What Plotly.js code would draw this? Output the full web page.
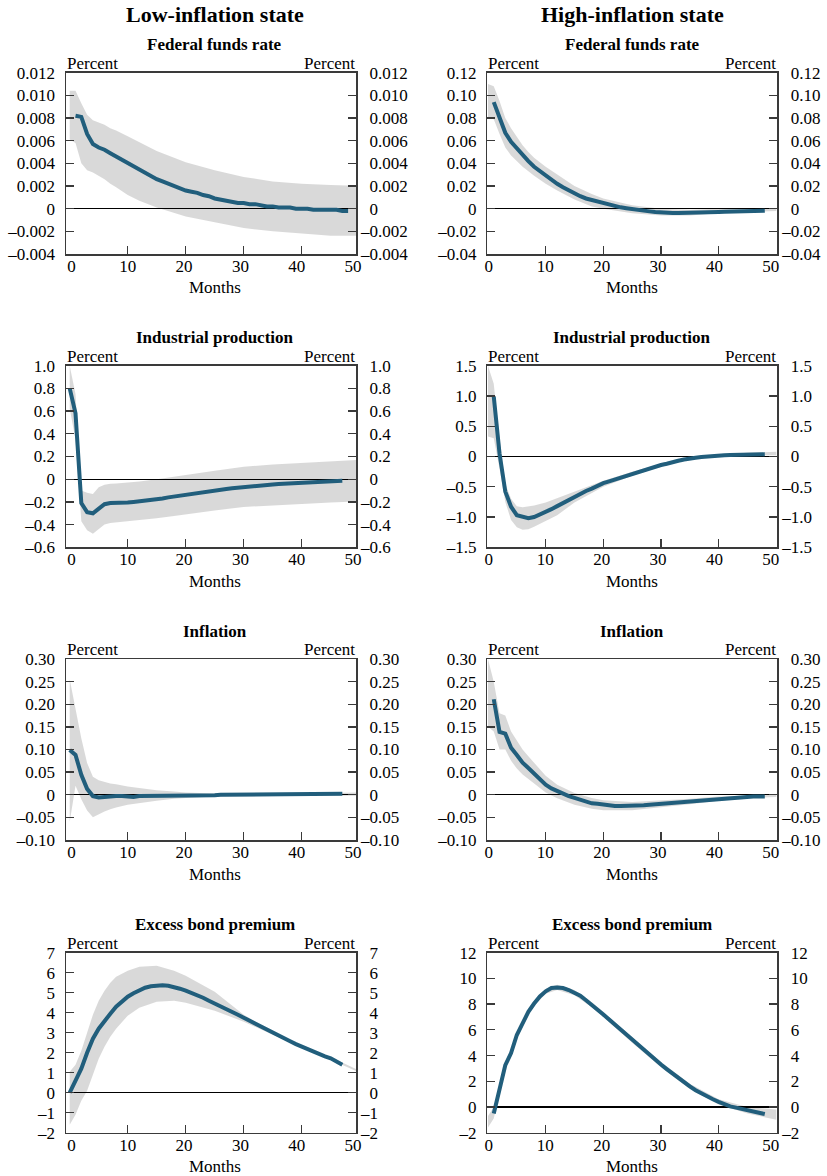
<!DOCTYPE html>
<html>
<head>
<meta charset="utf-8">
<script src="https://cdn.plot.ly/plotly-3.0.1.min.js"></script>
<style>html,body{margin:0;padding:0;background:#fff;}#chart{width:827px;height:1176px;}</style>
</head>
<body>
<div id="chart"></div>
<script>
// ---------------- DATA ----------------
const columnTitles = ["Low-inflation state", "High-inflation state"];
const panelTitles = ["Federal funds rate", "Industrial production", "Inflation", "Excess bond premium"];
const unitLabel = "Percent";
const xAxisLabel = "Months";

const monthsFrom1 = [1,2,3,4,5,6,7,8,9,10,11,12,13,14,15,16,17,18,19,20,21,22,23,24,25,26,27,28,29,30,31,32,33,34,35,36,37,38,39,40,41,42,43,44,45,46,47,48];
const monthsFrom0 = [0,1,2,3,4,5,6,7,8,9,10,11,12,13,14,15,16,17,18,19,20,21,22,23,24,25,26,27,28,29,30,31,32,33,34,35,36,37,38,39,40,41,42,43,44,45,46,47];
const bandMonths = [0,1,2,3,4,5,6,7,8,10,12,15,18,20,25,30,35,40,45,50];

const xTickVals = [0,10,20,30,40,50];
const xTickText = ["0","10","20","30","40","50"];
const xTickMarks = [10,20,30,40];

// Low-inflation: Federal funds rate
const lowFfrLine = [0.0082,0.0081,0.0066,0.0057,0.0054,0.0052,0.0049,0.0046,0.0043,0.0040,0.0037,0.0034,0.0031,0.0029,0.0026,0.0024,0.0022,0.0020,0.0018,0.0016,0.0015,0.0014,0.0012,0.0011,0.0009,0.0008,0.0007,0.0006,0.0005,0.0005,0.0004,0.0004,0.0003,0.0002,0.0002,0.0001,0.0001,0.0001,0.0000,0.0000,0.0000,-0.0001,-0.0001,-0.0001,-0.0001,-0.0001,-0.0002,-0.0002];
const lowFfrUpper = [0.0104,0.0104,0.0093,0.0083,0.0078,0.0076,0.0074,0.0071,0.0069,0.0064,0.0059,0.0051,0.0045,0.0041,0.0034,0.0028,0.0024,0.0022,0.0021,0.0020];
const lowFfrLower = [0.0061,0.0058,0.0040,0.0034,0.0032,0.0029,0.0026,0.0022,0.0019,0.0012,0.0007,0.0001,-0.0004,-0.0007,-0.0012,-0.0017,-0.0020,-0.0022,-0.0024,-0.0024];
const lowFfrTickVals = [0.012,0.010,0.008,0.006,0.004,0.002,0,-0.002,-0.004];
const lowFfrTickText = ["0.012","0.010","0.008","0.006","0.004","0.002","0","–0.002","–0.004"];

// High-inflation: Federal funds rate
const highFfrLine = [0.094,0.081,0.067,0.059,0.053,0.047,0.042,0.037,0.033,0.029,0.025,0.022,0.019,0.016,0.013,0.011,0.009,0.0077,0.006,0.0045,0.0033,0.0022,0.0012,0.0004,-0.0005,-0.0012,-0.0018,-0.0024,-0.003,-0.0035,-0.0037,-0.0038,-0.0038,-0.0038,-0.0038,-0.0037,-0.0036,-0.0034,-0.0032,-0.003,-0.0028,-0.0026,-0.0024,-0.0022,-0.002,-0.0019,-0.0018,-0.0018];
const highFfrUpper = [0.110,0.108,0.095,0.080,0.071,0.063,0.056,0.050,0.045,0.037,0.030,0.020,0.013,0.009,0.003,0.000,-0.001,0.000,0.000,0.000];
const highFfrLower = [0.080,0.079,0.066,0.054,0.047,0.042,0.037,0.033,0.029,0.022,0.016,0.008,0.002,0.000,-0.004,-0.006,-0.006,-0.004,-0.003,-0.002];
const highFfrTickVals = [0.12,0.10,0.08,0.06,0.04,0.02,0,-0.02,-0.04];
const highFfrTickText = ["0.12","0.10","0.08","0.06","0.04","0.02","0","–0.02","–0.04"];

// Low-inflation: Industrial production
const lowIpLine = [0.80,0.58,-0.21,-0.29,-0.30,-0.26,-0.22,-0.21,-0.21,-0.21,-0.205,-0.20,-0.195,-0.19,-0.183,-0.177,-0.17,-0.16,-0.152,-0.143,-0.135,-0.127,-0.12,-0.115,-0.108,-0.10,-0.093,-0.086,-0.08,-0.074,-0.068,-0.063,-0.058,-0.054,-0.05,-0.046,-0.042,-0.039,-0.036,-0.033,-0.03,-0.027,-0.024,-0.022,-0.02,-0.018,-0.016,-0.014];
const lowIpUpper = [1.00,0.75,-0.10,-0.12,-0.13,-0.07,-0.05,-0.04,-0.037,-0.03,-0.02,0.00,0.025,0.037,0.075,0.11,0.13,0.145,0.155,0.17];
const lowIpLower = [0.62,0.35,-0.37,-0.45,-0.48,-0.44,-0.40,-0.385,-0.38,-0.375,-0.365,-0.345,-0.325,-0.31,-0.275,-0.245,-0.23,-0.215,-0.205,-0.195];
const lowIpTickVals = [1.0,0.8,0.6,0.4,0.2,0,-0.2,-0.4,-0.6];
const lowIpTickText = ["1.0","0.8","0.6","0.4","0.2","0","–0.2","–0.4","–0.6"];

// High-inflation: Industrial production
const highIpLine = [0.99,0.05,-0.58,-0.83,-0.97,-1.00,-1.02,-1.00,-0.96,-0.91,-0.87,-0.82,-0.77,-0.71,-0.66,-0.61,-0.57,-0.53,-0.48,-0.44,-0.41,-0.38,-0.34,-0.31,-0.28,-0.25,-0.22,-0.20,-0.17,-0.14,-0.12,-0.09,-0.07,-0.05,-0.03,-0.02,-0.01,0.00,0.01,0.015,0.02,0.023,0.026,0.03,0.035,0.036,0.036,0.036];
const highIpUpper = [1.5,1.2,0.3,-0.45,-0.70,-0.82,-0.84,-0.83,-0.81,-0.76,-0.69,-0.58,-0.47,-0.40,-0.25,-0.12,-0.02,0.03,0.06,0.08];
const highIpLower = [0.33,0.30,-0.20,-0.75,-1.05,-1.17,-1.21,-1.20,-1.16,-1.07,-0.97,-0.76,-0.60,-0.50,-0.32,-0.17,-0.05,0.00,0.02,0.02];
const highIpTickVals = [1.5,1.0,0.5,0,-0.5,-1.0,-1.5];
const highIpTickText = ["1.5","1.0","0.5","0","–0.5","–1.0","–1.5"];

// Low-inflation: Inflation
const lowInfLine = [0.099,0.088,0.044,0.013,-0.003,-0.006,-0.005,-0.003,-0.003,-0.003,-0.004,-0.005,-0.003,-0.003,-0.003,-0.003,-0.003,-0.003,-0.003,-0.003,-0.003,-0.003,-0.003,-0.003,-0.002,-0.001,0.0,0.0,0.0,0.0,0.0,0.0,0.0,0.0,0.0,0.0,0.0,0.0,0.0,0.002,0.002,0.002,0.002,0.002,0.002,0.002,0.002,0.002];
const lowInfUpper = [0.255,0.19,0.125,0.07,0.04,0.032,0.028,0.025,0.023,0.018,0.015,0.01,0.007,0.005,0.003,0.003,0.003,0.004,0.004,0.005];
const lowInfLower = [-0.06,0.02,-0.01,-0.035,-0.05,-0.043,-0.037,-0.032,-0.028,-0.022,-0.018,-0.013,-0.009,-0.007,-0.004,-0.003,-0.002,-0.002,-0.002,-0.002];
const infTickVals = [0.30,0.25,0.20,0.15,0.10,0.05,0,-0.05,-0.10];
const infTickText = ["0.30","0.25","0.20","0.15","0.10","0.05","0","–0.05","–0.10"];

// High-inflation: Inflation
const highInfLine = [0.211,0.139,0.135,0.104,0.088,0.071,0.059,0.046,0.034,0.022,0.014,0.008,0.002,-0.003,-0.007,-0.011,-0.015,-0.019,-0.020,-0.022,-0.023,-0.025,-0.025,-0.025,-0.024,-0.023,-0.023,-0.022,-0.021,-0.020,-0.019,-0.018,-0.017,-0.016,-0.015,-0.013,-0.012,-0.011,-0.009,-0.008,-0.007,-0.006,-0.005,-0.004,-0.004,-0.004,-0.004,-0.004];
const highInfUpper = [0.30,0.25,0.18,0.175,0.14,0.12,0.10,0.085,0.07,0.042,0.022,0.004,-0.007,-0.012,-0.016,-0.013,-0.009,-0.004,-0.002,0.0];
const highInfLower = [0.15,0.14,0.10,0.10,0.075,0.058,0.045,0.035,0.025,0.005,-0.008,-0.022,-0.031,-0.034,-0.034,-0.028,-0.021,-0.013,-0.007,-0.005];

// Low-inflation: Excess bond premium
const lowEbpLine = [0.0,0.55,1.2,2.0,2.7,3.2,3.6,3.95,4.3,4.55,4.8,4.97,5.13,5.25,5.32,5.36,5.37,5.35,5.3,5.2,5.1,5.0,4.9,4.75,4.6,4.47,4.33,4.2,4.05,3.9,3.75,3.6,3.45,3.3,3.13,2.97,2.83,2.7,2.57,2.43,2.3,2.17,2.04,1.93,1.82,1.72,1.58,1.4];
const lowEbpUpper = [1.05,1.4,2.1,3.0,3.9,4.6,5.1,5.5,5.8,6.1,6.3,6.35,6.1,5.85,5.05,3.9,3.05,2.35,1.78,1.1];
const lowEbpLower = [-1.6,-1.1,-0.4,0.1,0.9,1.7,2.3,2.8,3.2,3.85,4.25,4.55,4.6,4.5,4.1,3.55,2.9,2.25,1.65,1.0];
const lowEbpTickVals = [7,6,5,4,3,2,1,0,-1,-2];
const lowEbpTickText = ["7","6","5","4","3","2","1","0","–1","–2"];

// High-inflation: Excess bond premium
const highEbpLine = [-0.5,1.3,3.25,4.2,5.6,6.5,7.4,8.05,8.6,9.0,9.25,9.3,9.25,9.1,8.9,8.65,8.3,7.95,7.6,7.2,6.8,6.4,6.0,5.6,5.2,4.8,4.4,4.0,3.65,3.3,2.95,2.6,2.25,1.9,1.6,1.3,1.05,0.8,0.6,0.4,0.2,0.05,-0.05,-0.15,-0.24,-0.35,-0.45,-0.55];
const highEbpUpper = [-0.7,0.0,1.6,3.5,4.45,5.8,6.7,7.6,8.25,9.2,9.5,9.1,8.15,7.4,5.4,3.5,1.8,0.6,0.0,-0.2];
const highEbpLower = [-1.6,-0.9,1.0,3.0,3.95,5.4,6.3,7.2,7.85,8.8,9.1,8.7,7.75,7.0,5.0,3.1,1.4,0.2,-0.5,-1.0];
const highEbpTickVals = [12,10,8,6,4,2,0,-2];
const highEbpTickText = ["12","10","8","6","4","2","0","–2"];

// ---------------- PANELS ----------------
const panels = [
  {months: monthsFrom1, line: lowFfrLine,  up: lowFfrUpper,  lo: lowFfrLower,  range: [-0.004, 0.012], tv: lowFfrTickVals,  tt: lowFfrTickText},
  {months: monthsFrom1, line: highFfrLine, up: highFfrUpper, lo: highFfrLower, range: [-0.04, 0.12],   tv: highFfrTickVals, tt: highFfrTickText},
  {months: monthsFrom0, line: lowIpLine,   up: lowIpUpper,   lo: lowIpLower,   range: [-0.6, 1.0],     tv: lowIpTickVals,   tt: lowIpTickText},
  {months: monthsFrom1, line: highIpLine,  up: highIpUpper,  lo: highIpLower,  range: [-1.5, 1.5],     tv: highIpTickVals,  tt: highIpTickText},
  {months: monthsFrom0, line: lowInfLine,  up: lowInfUpper,  lo: lowInfLower,  range: [-0.10, 0.30],   tv: infTickVals,     tt: infTickText},
  {months: monthsFrom1, line: highInfLine, up: highInfUpper, lo: highInfLower, range: [-0.10, 0.30],   tv: infTickVals,     tt: infTickText},
  {months: monthsFrom0, line: lowEbpLine,  up: lowEbpUpper,  lo: lowEbpLower,  range: [-2, 7],         tv: lowEbpTickVals,  tt: lowEbpTickText},
  {months: monthsFrom1, line: highEbpLine, up: highEbpUpper, lo: highEbpLower, range: [-2, 12],        tv: highEbpTickVals, tt: highEbpTickText}
];

// ---------------- LAYOUT GEOMETRY ----------------
const W = 827, H = 1176;
const colPx = [[66, 356], [487.3, 777.3]];
const rowPx = [[72.7, 254], [365.7, 547.3], [659, 840], [952.7, 1132.7]];
const dataXRange = [[-0.64, 49.36], [-0.12, 50.17]];
const labelXRange = [[-0.98, 50.53], [-0.27, 51.14]];

const FONT = "Liberation Serif, Times New Roman, serif";
const frameColor = "#3a3a3a";
const lineColor = "#215e7c";
const bandFill = "rgba(0,0,0,0.15)";
// right-hand labels: the minus sign hangs to the left of the digit column
const hang = t => (t.charAt(0) === "–" ? t : "\u2007" + t);

const traces = [];
const layout = {
  width: W, height: H,
  margin: {l: 0, r: 0, t: 0, b: 0},
  paper_bgcolor: "#ffffff",
  plot_bgcolor: "rgba(0,0,0,0)",
  font: {family: FONT, size: 17, color: "#000"},
  showlegend: false,
  annotations: []
};

panels.forEach((p, i) => {
  const col = i % 2, row = Math.floor(i / 2);
  const id = i === 0 ? "" : String(i + 1);
  const lid = String(i + 9);
  const xd = [colPx[col][0] / W, colPx[col][1] / W];
  const yd = [1 - rowPx[row][1] / H, 1 - rowPx[row][0] / H];

  traces.push({x: bandMonths, y: p.lo, xaxis: "x" + id, yaxis: "y" + id, mode: "lines",
    line: {width: 0, color: bandFill}, hoverinfo: "skip", showlegend: false});
  traces.push({x: bandMonths, y: p.up, xaxis: "x" + id, yaxis: "y" + id, mode: "lines",
    line: {width: 0, color: bandFill}, fill: "tonexty", fillcolor: bandFill, hoverinfo: "skip", showlegend: false});
  traces.push({x: p.months, y: p.line, xaxis: "x" + id, yaxis: "y" + lid, mode: "lines",
    line: {width: 4, color: lineColor}, showlegend: false});
  traces.push({x: [], y: [], xaxis: "x" + lid, yaxis: "y" + id, mode: "lines", showlegend: false, hoverinfo: "skip"});

  layout["xaxis" + id] = {
    domain: xd, range: dataXRange[col], anchor: "y" + id,
    tickmode: "array", tickvals: xTickMarks, showticklabels: false,
    ticks: "inside", ticklen: 8, tickwidth: 1.3, tickcolor: frameColor,
    showline: true, linecolor: frameColor, linewidth: 1.5, mirror: true,
    showgrid: false, zeroline: false, fixedrange: true
  };
  layout["xaxis" + lid] = {
    overlaying: "x" + id, anchor: "y" + id, side: "bottom", range: labelXRange[col],
    tickmode: "array", tickvals: xTickVals, ticktext: xTickText,
    ticks: "", showline: false, showgrid: false, zeroline: false,
    tickfont: {family: FONT, size: 17, color: "#000"}, ticklabelstandoff: 0, fixedrange: true
  };
  layout["yaxis" + id] = {
    domain: yd, range: p.range, anchor: "x" + id,
    tickmode: "array", tickvals: p.tv, ticktext: p.tt,
    ticks: "inside", ticklen: 8, tickwidth: 1.3, tickcolor: frameColor,
    showline: true, linecolor: frameColor, linewidth: 1.5,
    zeroline: true, zerolinecolor: "#000", zerolinewidth: 1.3,
    showgrid: false, tickfont: {family: FONT, size: 17, color: "#000"},
    ticklabelstandoff: 6, fixedrange: true
  };
  layout["yaxis" + lid] = {
    overlaying: "y" + id, anchor: "x" + id, side: "right", range: p.range,
    tickmode: "array", tickvals: p.tv, ticktext: p.tt.map(hang),
    ticks: "inside", ticklen: 8, tickwidth: 1.3, tickcolor: frameColor,
    showline: true, linecolor: frameColor, linewidth: 1.5,
    zeroline: false, showgrid: false, tickfont: {family: FONT, size: 17, color: "#000"},
    ticklabelstandoff: 0, fixedrange: true
  };

  const ann = layout.annotations;
  if (row === 0) {
    ann.push({text: columnTitles[col], xref: "x" + id, x: 25, yref: "y" + id + " domain", y: 1,
      yshift: 57.7, yanchor: "middle", xanchor: "center", showarrow: false,
      font: {family: FONT, size: 22, color: "#000", weight: "bold"}});
  }
  ann.push({text: panelTitles[row], xref: "x" + id, x: 25, yref: "y" + id + " domain", y: 1,
    yshift: 28, yanchor: "middle", xanchor: "center", showarrow: false,
    font: {family: FONT, size: 17, color: "#000", weight: "bold"}});
  ann.push({text: unitLabel, xref: "x" + id + " domain", x: 0, xanchor: "left",
    yref: "y" + id + " domain", y: 1, yshift: 9.5, yanchor: "middle", showarrow: false, borderpad: 0,
    font: {family: FONT, size: 17, color: "#000"}});
  ann.push({text: unitLabel, xref: "x" + id + " domain", x: 1, xanchor: "right",
    yref: "y" + id + " domain", y: 1, yshift: 9.5, yanchor: "middle", showarrow: false, borderpad: 0,
    font: {family: FONT, size: 17, color: "#000"}});
  ann.push({text: xAxisLabel, xref: "x" + id, x: 25, yref: "y" + id + " domain", y: 0,
    yshift: -34, yanchor: "middle", xanchor: "center", showarrow: false,
    font: {family: FONT, size: 17, color: "#000"}});
});

Plotly.newPlot("chart", traces, layout, {staticPlot: true, displayModeBar: false});
</script>
</body>
</html>
